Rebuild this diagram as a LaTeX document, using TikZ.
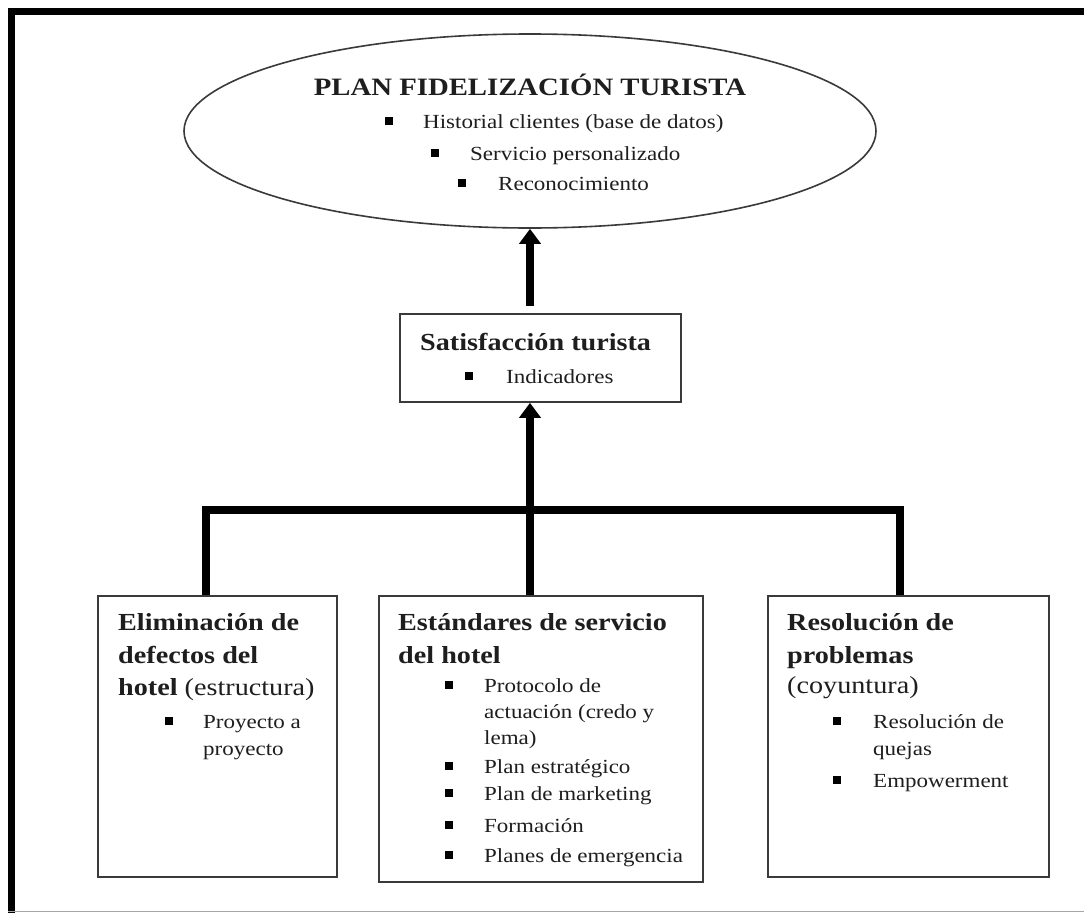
\documentclass[tikz,border=0pt]{standalone}
\usepackage{fontspec}
\setmainfont{Liberation Serif}[FakeStretch=1.15]
\usetikzlibrary{arrows.meta,shapes.geometric}
\newcommand\fsz[1]{\fontsize{#1}{#1}\selectfont}
\definecolor{ink}{HTML}{1E1E1E}
\definecolor{edge}{HTML}{3A3A3A}
\tikzset{
  box/.style={draw=edge, line width=1.6pt, inner sep=0pt},
  link/.style={line width=7.5pt, draw=black, line join=miter},
  tip/.style={-{Triangle[width=21pt,length=15pt]}},
  txt/.style={anchor=base west, inner sep=0pt, text=ink, font=\fsz{20}},
  hd/.style={anchor=base west, inner sep=0pt, text=ink, font=\bfseries\fsz{24.5}},
  bul/.style={fill=black, inner sep=0pt, minimum size=7.5pt},
}
\begin{document}
\begin{tikzpicture}[x=1pt,y=-1pt]
\useasboundingbox (0,0) rectangle (1084,913);
\fill[white] (0,0) rectangle (1084,913);
% outer frame: heavy top and left rules, light rule at the foot
\draw[line width=7.5pt, line join=miter] (11.5,913) -- (11.5,11.5) -- (1084,11.5);
\draw[gray!70, line width=1pt] (8,911.5) -- (1084,911.5);

% ---- boxes ----
\node[box, ellipse, minimum width=692pt, minimum height=194pt] (plan) at (530,131) {};
\node[box, minimum width=281pt, minimum height=88pt] (sat) at (540.5,358) {};
\node[box, minimum width=239pt, minimum height=281pt] (b1) at (217.5,736.5) {};
\node[box, minimum width=324pt, minimum height=286pt] (b2) at (541,739) {};
\node[box, minimum width=281pt, minimum height=281pt] (b3) at (908.5,736.5) {};

% ---- top ellipse text ----
\node[hd, anchor=base, font=\bfseries\fsz{25}] (pt) at (530,95) {PLAN FIDELIZACIÓN TURISTA};
\node[bul] (pb1) at (389,121) {};
\node[txt] (p1) at (423,128) {Historial clientes (base de datos)};
\node[bul] (pb2) at (435,153) {};
\node[txt] (p2) at (470,160) {Servicio personalizado};
\node[bul] (pb3) at (462,183) {};
\node[txt] (p3) at (498,190) {Reconocimiento};

% ---- satisfaction box text ----
\node[hd] (st) at (420,350) {Satisfacción turista};
\node[bul] (sb1) at (469,376) {};
\node[txt] (s1) at (506,383) {Indicadores};

% ---- left box ----
\node[hd] (l1) at (118,630) {Eliminación de};
\node[hd] (l2) at (118,663) {defectos del};
\node[hd] (l3) at (118,695) {hotel \mdseries(estructura)};
\node[bul] (lb1) at (169,721) {};
\node[txt] (l4) at (203,728) {Proyecto a};
\node[txt] (l5) at (203,755) {proyecto};

% ---- middle box ----
\node[hd] (m1) at (398,630) {Estándares de servicio};
\node[hd] (m2) at (398,663) {del hotel};
\node[bul] (mb1) at (449,685) {};
\node[txt] (m3) at (484,692) {Protocolo de};
\node[txt] (m4) at (484,718) {actuación (credo y};
\node[txt] (m5) at (484,744) {lema)};
\node[bul] (mb2) at (449,766) {};
\node[txt] (m6) at (484,773) {Plan estratégico};
\node[bul] (mb3) at (449,793) {};
\node[txt] (m7) at (484,800) {Plan de marketing};
\node[bul] (mb4) at (449,825) {};
\node[txt] (m8) at (484,832) {Formación};
\node[bul] (mb5) at (449,855) {};
\node[txt] (m9) at (484,862) {Planes de emergencia};

% ---- right box ----
\node[hd] (r1) at (787,630) {Resolución de};
\node[hd] (r2) at (787,663) {problemas};
\node[hd, font=\fsz{24.5}] (r3) at (787,693) {(coyuntura)};
\node[bul] (rb1) at (837,721) {};
\node[txt] (r4) at (873,728) {Resolución de};
\node[txt] (r5) at (873,755) {quejas};
\node[bul] (rb2) at (837,780) {};
\node[txt] (r6) at (873,787) {Empowerment};

% ---- connectors ----
\coordinate (jl) at (206,510);
\coordinate (jc) at (530,510);
\coordinate (jr) at (900,510);
\draw[link] (b1.north -| jl) -- (jl) -- (jr) -- (b3.north -| jr);
\draw[link] (b2.north -| jc) -- (jc);
\draw[link, tip] (jc) -- (sat.south -| jc);
\draw[link, tip] ([yshift=7pt]sat.north -| jc) -- (plan.south);
\end{tikzpicture}
\end{document}
